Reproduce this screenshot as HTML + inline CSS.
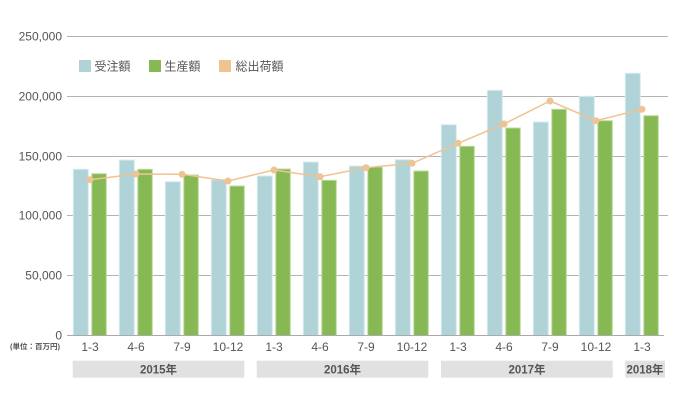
<!DOCTYPE html>
<html><head><meta charset="utf-8"><style>
html,body{margin:0;padding:0;background:#fff;}
svg{display:block;font-family:"Liberation Sans","Noto Sans CJK JP",sans-serif;}
</style></head><body>
<svg width="680" height="400" viewBox="0 0 680 400" xmlns="http://www.w3.org/2000/svg">
<g stroke="#b3b3b3" stroke-width="1">
<line x1="67" y1="36.5" x2="668" y2="36.5"/>
<line x1="67" y1="96.5" x2="668" y2="96.5"/>
<line x1="67" y1="156.5" x2="668" y2="156.5"/>
<line x1="67" y1="215.5" x2="668" y2="215.5"/>
<line x1="67" y1="275.5" x2="668" y2="275.5"/>
</g>
<g fill="#555" font-size="12" text-anchor="end">
<text x="62" y="40.5">250,000</text>
<text x="62" y="100.5">200,000</text>
<text x="62" y="160.5">150,000</text>
<text x="62" y="219.5">100,000</text>
<text x="62" y="279.5">50,000</text>
<text x="62" y="339.5">0</text>
</g>
<text x="35" y="349" fill="#555" font-size="7.5" font-weight="bold" text-anchor="middle">(単位：百万円)</text>
<g id="bars"></g>
<script>
(function(){
var blue=[169.3,160,181.7,179.7,176,162,166,159.7,124.7,90.3,122,96.3,73.3];
var green=[173.7,169.3,175,186,169,180.3,167,171,146.3,128,109.3,120.7,115.7];
var line=[179.7,174,174.3,181,170,176.7,167.7,163.3,143.3,124,101,120.7,109.3];
var labels=["1-3","4-6","7-9","10-12","1-3","4-6","7-9","10-12","1-3","4-6","7-9","10-12","1-3"];
var ns="http://www.w3.org/2000/svg";
var g=document.getElementById("bars");
function el(t,a){var e=document.createElementNS(ns,t);for(var k in a)e.setAttribute(k,a[k]);return e;}
var base=335.5;
for(var i=0;i<13;i++){
 var bx=73.3+46*i, gx=91.8+46*i;
 g.appendChild(el("rect",{x:bx,y:blue[i],width:15,height:base-blue[i],fill:"#b0d3d8",stroke:"#d8ecee","stroke-width":"1"}));
 g.appendChild(el("rect",{x:gx,y:green[i],width:14.5,height:base-green[i],fill:"#86b853",stroke:"#bcdca0","stroke-width":"1"}));
 var t=el("text",{x:90+46*i,y:351,fill:"#555","font-size":"12","text-anchor":"middle"});
 t.textContent=labels[i];g.appendChild(t);
}
g.appendChild(el("line",{x1:67,y1:335.5,x2:664,y2:335.5,stroke:"#aaa","stroke-width":"1"}));
var pts=[];for(var i=0;i<13;i++)pts.push((90+46*i)+","+line[i]);
g.appendChild(el("polyline",{points:pts.join(" "),fill:"none",stroke:"#f0c392","stroke-width":"1.5"}));
for(var i=0;i<13;i++)g.appendChild(el("circle",{cx:90+46*i,cy:line[i],r:3.5,fill:"#f0c392"}));
})();
</script>
<g fill="#e1e1e1">
<rect x="72.7" y="360.7" width="171.6" height="17"/>
<rect x="256.7" y="360.7" width="171.6" height="17"/>
<rect x="441" y="360.7" width="171.7" height="17"/>
<rect x="625.3" y="360.7" width="39.7" height="17"/>
</g>
<g fill="#555" font-size="11.5" font-weight="bold" text-anchor="middle">
<text x="158.5" y="373.5">2015年</text>
<text x="342.5" y="373.5">2016年</text>
<text x="527" y="373.5">2017年</text>
<text x="645" y="373.5">2018年</text>
</g>
<rect x="79" y="60" width="12" height="12" fill="#b0d3d8"/>
<rect x="149" y="60" width="12" height="12" fill="#86b853"/>
<rect x="219" y="60" width="12" height="12" fill="#f0c392"/>
<g fill="#555" font-size="12">
<text x="94.5" y="70.5">受注額</text>
<text x="164.5" y="70.5">生産額</text>
<text x="235.5" y="70.5">総出荷額</text>
</g>
</svg>
</body></html>
